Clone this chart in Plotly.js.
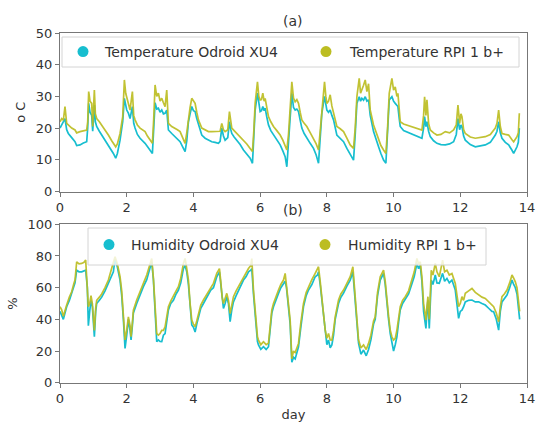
<!DOCTYPE html>
<html>
<head>
<meta charset="utf-8">
<script src="https://cdn.plot.ly/plotly-3.0.1.min.js"></script>
<style>html,body{margin:0;padding:0;background:#fff;}#chart{width:536px;height:422px;}</style>
</head>
<body>
<div id="chart"></div>
<script>
// ---- Temperature (panel a) ----
const tempDay = [0.00,0.05,0.10,0.15,0.20,0.25,0.35,0.45,0.50,0.60,0.70,0.80,0.83,0.86,0.90,0.95,0.98,1.00,1.03,1.06,1.10,1.18,1.25,1.35,1.45,1.55,1.60,1.67,1.72,1.80,1.88,1.93,1.97,2.00,2.05,2.10,2.17,2.21,2.25,2.32,2.40,2.48,2.55,2.62,2.70,2.77,2.81,2.85,2.90,2.95,3.00,3.05,3.10,3.15,3.20,3.23,3.25,3.35,3.45,3.52,3.60,3.70,3.75,3.80,3.85,3.90,3.95,4.00,4.05,4.10,4.15,4.25,4.35,4.45,4.55,4.65,4.75,4.80,4.85,4.90,4.95,5.03,5.08,5.12,5.15,5.22,5.30,5.40,5.50,5.60,5.70,5.77,5.81,5.85,5.92,5.96,6.00,6.04,6.08,6.12,6.15,6.20,6.25,6.32,6.40,6.50,6.60,6.68,6.75,6.80,6.85,6.90,6.95,7.00,7.05,7.10,7.15,7.20,7.25,7.32,7.40,7.50,7.60,7.68,7.75,7.80,7.85,7.93,7.97,8.00,8.05,8.10,8.15,8.20,8.30,8.40,8.50,8.60,8.70,8.80,8.85,8.90,8.97,9.01,9.05,9.10,9.15,9.20,9.25,9.30,9.40,9.48,9.55,9.62,9.70,9.77,9.82,9.87,9.95,10.00,10.05,10.10,10.13,10.17,10.20,10.30,10.45,10.65,10.80,10.85,10.90,10.93,10.97,11.00,11.05,11.10,11.20,11.30,11.42,11.55,11.68,11.80,11.88,11.93,11.98,12.02,12.05,12.10,12.15,12.30,12.45,12.60,12.75,12.90,13.05,13.10,13.15,13.20,13.25,13.35,13.45,13.55,13.60,13.70,13.74,13.77];
const tempOdroid = [20.0,21.0,21.5,23.0,19.5,18.3,17.0,15.7,14.5,14.7,15.3,15.7,20.0,27.8,25.0,24.0,19.0,23.0,27.3,22.0,20.5,19.0,17.8,16.5,14.7,13.0,12.0,10.5,12.0,16.2,22.0,29.4,26.5,25.7,24.7,23.0,26.8,21.5,20.0,18.0,16.8,16.0,15.2,14.2,13.1,12.0,20.0,28.0,26.0,26.3,25.0,25.7,24.5,24.7,25.7,20.5,19.4,18.3,17.3,16.5,15.7,13.6,12.6,16.0,22.0,24.5,26.8,25.5,25.2,23.0,21.0,17.8,16.8,16.2,15.7,15.5,15.2,15.8,20.0,17.5,16.2,17.0,22.0,19.5,18.3,17.2,16.2,14.8,13.1,11.8,10.5,8.9,17.0,25.7,31.0,27.0,25.2,25.5,26.8,25.5,26.3,23.5,21.0,19.2,17.8,16.3,14.7,12.8,11.0,7.8,15.0,24.7,31.0,26.5,25.7,26.0,25.2,22.5,20.0,18.3,16.8,15.2,13.6,11.5,8.9,16.0,24.7,30.0,27.0,25.7,25.0,25.7,24.0,22.6,17.8,16.8,15.7,13.6,11.5,9.9,18.0,27.8,29.9,28.5,29.4,28.8,29.9,28.5,28.9,24.0,18.9,16.0,14.1,12.0,9.9,8.9,18.0,28.9,29.9,28.5,27.8,27.0,26.8,23.0,20.5,19.2,18.5,17.8,17.0,16.8,20.0,23.6,20.5,22.0,19.0,17.3,16.0,15.2,14.8,14.7,15.0,15.7,18.0,23.0,19.5,21.0,20.5,17.5,16.2,14.8,14.1,14.5,14.7,15.5,17.8,19.0,22.0,18.5,16.8,15.5,14.7,13.0,12.0,14.1,15.5,20.0];
const tempRpi = [22.0,23.0,22.5,26.8,21.5,21.0,20.0,19.4,18.5,18.9,19.2,19.4,22.0,31.5,28.5,27.8,20.5,26.0,32.0,24.5,23.0,22.0,21.0,19.5,17.8,16.0,15.2,14.1,15.0,18.3,23.6,35.2,31.0,29.9,27.3,25.7,31.5,24.0,22.6,21.0,20.0,19.5,18.9,17.5,16.2,15.2,23.0,33.6,30.0,31.0,28.5,29.4,28.0,26.8,32.0,23.0,21.5,20.5,20.0,19.5,18.9,16.2,15.2,18.5,23.6,26.5,29.4,28.5,27.8,25.0,22.6,20.0,19.4,18.9,18.9,18.9,18.9,19.0,21.5,19.5,18.9,19.5,25.2,21.0,20.0,19.2,18.3,17.2,16.2,15.0,13.6,12.6,19.0,27.8,34.6,30.0,28.9,29.0,31.0,28.5,29.4,26.0,23.6,22.0,20.5,19.2,17.8,16.2,14.7,13.1,18.0,26.8,34.6,29.5,28.3,29.0,27.8,25.0,22.6,21.5,20.5,18.6,16.8,15.0,13.1,19.0,26.8,34.6,30.0,27.8,28.5,30.5,27.0,24.7,20.5,19.8,18.9,16.8,14.7,13.6,20.0,29.9,35.7,31.0,32.0,33.5,35.2,31.5,34.0,25.7,21.0,18.5,16.2,14.5,13.1,12.0,20.0,31.0,35.7,32.0,33.0,30.0,31.0,25.0,22.0,21.3,20.8,20.0,19.5,19.4,24.0,29.9,24.0,28.9,21.5,19.4,18.5,17.8,18.0,18.9,18.5,19.4,21.0,27.3,21.5,24.5,23.6,19.5,18.3,17.2,16.8,17.0,17.3,18.0,20.0,21.5,25.7,20.5,18.3,18.0,17.8,16.3,15.7,17.3,18.5,24.7];

// ---- Humidity (panel b) ----
const humDay = [0.00,0.05,0.10,0.15,0.20,0.28,0.35,0.42,0.45,0.50,0.57,0.65,0.72,0.77,0.82,0.85,0.89,0.93,0.97,1.00,1.03,1.07,1.10,1.18,1.25,1.35,1.45,1.52,1.60,1.65,1.72,1.80,1.85,1.90,1.95,2.00,2.05,2.10,2.13,2.17,2.20,2.30,2.40,2.50,2.60,2.70,2.75,2.80,2.85,2.90,2.95,3.00,3.05,3.10,3.15,3.20,3.25,3.32,3.40,3.48,3.55,3.62,3.70,3.75,3.80,3.85,3.90,3.95,4.00,4.05,4.10,4.15,4.22,4.30,4.38,4.45,4.52,4.60,4.70,4.78,4.82,4.86,4.90,4.95,5.00,5.05,5.10,5.15,5.20,5.28,5.35,5.42,5.50,5.58,5.65,5.72,5.75,5.80,5.85,5.88,5.92,5.95,6.02,6.10,6.18,6.25,6.30,6.35,6.40,6.48,6.55,6.62,6.70,6.75,6.79,6.82,6.86,6.90,6.95,7.00,7.05,7.10,7.15,7.22,7.30,7.38,7.45,7.55,7.65,7.72,7.75,7.80,7.85,7.90,7.95,8.00,8.05,8.10,8.15,8.20,8.25,8.35,8.42,8.50,8.60,8.70,8.78,8.82,8.85,8.90,8.95,9.02,9.10,9.18,9.25,9.32,9.40,9.45,9.52,9.60,9.70,9.75,9.80,9.85,9.90,9.95,10.00,10.05,10.10,10.15,10.20,10.27,10.35,10.45,10.55,10.62,10.70,10.75,10.80,10.85,10.90,10.93,10.97,11.00,11.03,11.07,11.10,11.13,11.18,11.25,11.30,11.37,11.42,11.47,11.53,11.60,11.67,11.75,11.85,11.90,11.95,12.00,12.05,12.10,12.15,12.25,12.35,12.45,12.55,12.65,12.75,12.85,12.95,13.00,13.08,13.15,13.20,13.25,13.32,13.40,13.48,13.55,13.60,13.65,13.70,13.75,13.78];
const humOdroid = [45,43,40,44,48,52,56,61,63,71,70,70,70.5,71,60,36,45,52,48,40,29,45,50,52,54,58,62.7,66,70,78,73,64.8,55,40,21.7,30,40,33,27,36,44,50,56,60.6,65,72,76.3,65,45,25.9,27,26,25.9,30,31,40,46,50,52,56,58.5,63,72,74,70,62,48,36.4,35,32,37,42,47,50,53,55.3,58.5,60,66.9,70,62,52,46.9,50,54.3,50,38.5,46,51,55,58.5,61,64.8,67,70,71,72,56,42,32,26,23.8,21,22.7,21,22.7,35,44,48,53,56.4,60,62.7,64,60,54,45,37,13,16,15,20,22.7,35,48,55,58.5,62,66.9,68,70,62,52,42,31,24,26.9,22,23.8,30,40,50,54,56.5,61,64.8,70,60,48,36,25,18,20.6,17,21,27,37,40,55,64.8,69,62,48,40,31,26,20,24,29,38,46,50,52.5,56,62.5,67,75.3,72,74,64,45,40,34.3,45,52,34.3,55,64.8,62,68,63,62.7,66,69,64,65.8,63,64.8,58.5,50,40.6,45,45.8,48,51,52,52.2,51,51.1,50,49,47,45,44.8,40,33.2,45,51,53,55.3,60,64.8,62,60,56,43.7,40];
const humRpi = [48,46,42,46,49,54,57.4,63,64.8,76.3,75,75.3,76,77.4,62,48,50,55,50,43.7,33,47,52,54,56,60,64.8,70,75.3,79.5,75,66.9,58,43.7,27,33,41.6,36,29,38,45.8,52.2,58,62.7,68,75.3,78.4,66,48,31,30,31,33,33,35.3,42,48,51.5,54.3,58,60.6,66,75.3,78.4,72,64.8,50,39.5,37,35.3,39,43.7,49,52.2,55,57.4,59.5,62.7,69,72,64,54,50,53,56.4,52,43.7,49,54.3,58,60.6,63.5,66.9,69.5,72.1,74,78.4,58.5,44,35.3,29,26.9,24,25.9,24,25,37.4,46,50,55,58.5,62,64.8,69,62,56.4,48,39.5,15,20,19,22,24.8,38,50,57,60.6,65,69,71.5,73.2,64,54.3,44,33.2,28,31.1,27,26.9,33,41.6,52.2,56,58.5,63,66.9,73.2,62,50,38,26.9,22,23.8,21,24.8,30,39,41.6,57,66.9,71,64,50,42,33.2,29,26.9,28,33.2,41,48,52,54.3,58,64.8,70,78.4,75,76.3,66.9,50,43.7,39.5,48,54.3,40,60,71,68,75.3,70,66.9,72,77.4,70,71,68,69,62.7,54,48,50,54.3,52,56.4,58,59.5,57,55.3,54,53.2,51,49,48,44,38.5,48,54.3,56,58.5,63,68,66,63.7,60,52.2,45];

const dayTicks = [0,2,4,6,8,10,12,14];
const tempTicks = [0,10,20,30,40,50];
const humTicks = [0,20,40,60,80,100];

const CYAN = '#17becf', OLIVE = '#bcbd22';
const lineW = 1.7;

const traces = [
  {x: tempDay, y: tempOdroid, type:'scatter', mode:'lines', line:{color:CYAN, width:lineW}, xaxis:'x', yaxis:'y', showlegend:false, hoverinfo:'skip'},
  {x: tempDay, y: tempRpi, type:'scatter', mode:'lines', line:{color:OLIVE, width:lineW}, opacity:0.92, xaxis:'x', yaxis:'y', showlegend:false, hoverinfo:'skip'},
  {x: humDay, y: humOdroid, type:'scatter', mode:'lines', line:{color:CYAN, width:lineW}, xaxis:'x2', yaxis:'y2', showlegend:false, hoverinfo:'skip'},
  {x: humDay, y: humRpi, type:'scatter', mode:'lines', line:{color:OLIVE, width:lineW}, opacity:0.92, xaxis:'x2', yaxis:'y2', showlegend:false, hoverinfo:'skip'},
  // legend entries (circle markers, as in the reference legend)
  {x:[null], y:[null], type:'scatter', mode:'markers', name:'Temperature Odroid XU4', marker:{color:CYAN, size:11}, xaxis:'x', yaxis:'y', legend:'legend'},
  {x:[null], y:[null], type:'scatter', mode:'markers', name:'Temperature RPI 1 b+', marker:{color:OLIVE, size:11}, xaxis:'x', yaxis:'y', legend:'legend3'},
  {x:[null], y:[null], type:'scatter', mode:'markers', name:'Humidity Odroid XU4', marker:{color:CYAN, size:11}, xaxis:'x2', yaxis:'y2', legend:'legend2'},
  {x:[null], y:[null], type:'scatter', mode:'markers', name:'Humidity RPI 1 b+', marker:{color:OLIVE, size:11}, xaxis:'x2', yaxis:'y2', legend:'legend4'}
];

const W = 536, H = 422;
const px = v => v / W;
const py = v => (H - v) / H;
const FONT = 'DejaVu Sans, sans-serif';
const TXT = '#333333';
const SPINE = '#777777';

const axBase = {
  showline:true, mirror:true, linecolor:SPINE, linewidth:1,
  ticks:'outside', ticklen:4, tickcolor:SPINE, tickwidth:1,
  showgrid:false, zeroline:false, automargin:false,
  tickfont:{family:FONT, size:13, color:TXT}
};

function leg(xPix, yPix, iw) {
  return {orientation:'h', x:px(xPix), y:py(yPix), xanchor:'left', yanchor:'middle',
    bgcolor:'rgba(0,0,0,0)', borderwidth:0, itemwidth:iw,
    font:{family:FONT, size:14, color:TXT}};
}

const layout = {
  width:W, height:H,
  margin:{l:0, r:0, t:0, b:0},
  paper_bgcolor:'#ffffff', plot_bgcolor:'#ffffff',
  font:{family:FONT, size:13, color:TXT},
  xaxis: Object.assign({}, axBase, {domain:[px(60), px(527)], range:[0,14], tickvals:dayTicks, anchor:'y'}),
  yaxis: Object.assign({}, axBase, {domain:[py(191.5), py(33)], range:[0,50], tickvals:tempTicks, anchor:'x',
    title:{text:'o C', font:{family:FONT, size:13, color:TXT}, standoff:7}}),
  xaxis2: Object.assign({}, axBase, {domain:[px(60), px(527)], range:[0,14], tickvals:dayTicks, anchor:'y2',
    title:{text:'day', font:{family:FONT, size:13, color:TXT}, standoff:5}}),
  yaxis2: Object.assign({}, axBase, {domain:[py(382.7), py(224.3)], range:[0,100], tickvals:humTicks, anchor:'x2',
    title:{text:'%', font:{family:FONT, size:13, color:TXT}, standoff:7}}),
  legend: leg(61, 52, 34),
  legend3: leg(302, 52, 38),
  legend2: leg(87, 245, 34),
  legend4: leg(302, 245, 36),
  shapes:[
    {type:'rect', xref:'paper', yref:'paper', x0:px(62), x1:px(519), y0:py(67), y1:py(37),
      fillcolor:'rgba(255,255,255,0.8)', line:{color:'#d4d4d4', width:1}, layer:'above'},
    {type:'rect', xref:'paper', yref:'paper', x0:px(88), x1:px(486), y0:py(265), y1:py(228),
      fillcolor:'rgba(255,255,255,0.8)', line:{color:'#d4d4d4', width:1}, layer:'above'}
  ],
  annotations:[
    {text:'(a)', xref:'paper', yref:'paper', x:px(293), y:py(21), xanchor:'center', yanchor:'middle', showarrow:false, font:{family:FONT, size:14, color:TXT}},
    {text:'(b)', xref:'paper', yref:'paper', x:px(293), y:py(210), xanchor:'center', yanchor:'middle', showarrow:false, font:{family:FONT, size:14, color:TXT}}
  ]
};

Plotly.newPlot('chart', traces, layout, {displayModeBar:false, staticPlot:true});
</script>
</body>
</html>
